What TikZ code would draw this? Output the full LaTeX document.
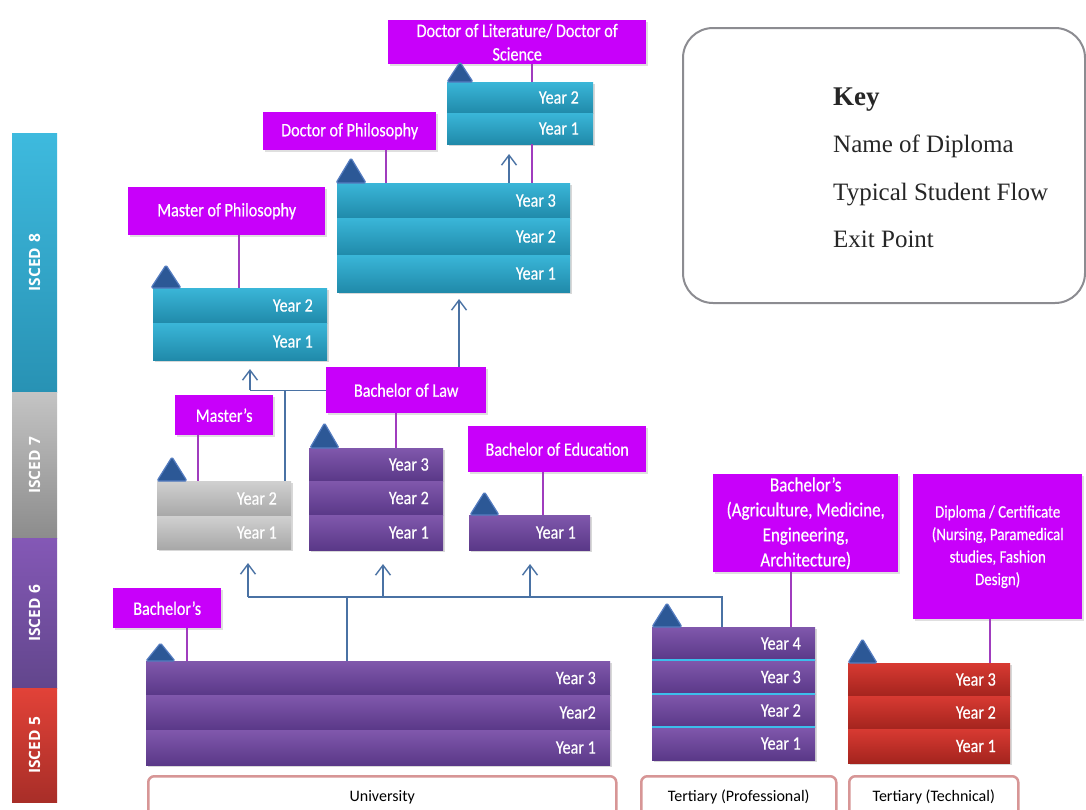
\documentclass[tikz,border=0pt]{standalone}
\usepackage{fontspec}
\setmainfont{Liberation Serif}
\newfontfamily\condf[FakeStretch=0.85,FakeBold=0.5]{Carlito}
\newfontfamily\calf{Carlito}
\newfontfamily\osf{Open Sans}
\usetikzlibrary{arrows.meta,shadows}
\definecolor{mag}{RGB}{200,0,250}
\definecolor{tealL}{RGB}{58,182,216}
\definecolor{tealD}{RGB}{32,138,170}
\definecolor{purL}{RGB}{128,88,172}
\definecolor{purD}{RGB}{90,56,136}
\definecolor{greyL}{RGB}{208,208,208}
\definecolor{greyD}{RGB}{168,168,168}
\definecolor{redL}{RGB}{216,58,50}
\definecolor{redD}{RGB}{164,36,30}
\definecolor{triF}{RGB}{44,88,150}
\definecolor{triE}{RGB}{84,124,192}
\definecolor{connc}{RGB}{160,60,190}
\definecolor{flowc}{RGB}{74,114,164}
\definecolor{labc}{RGB}{215,150,150}
\definecolor{keyc}{RGB}{140,140,145}
\definecolor{sepc}{RGB}{60,190,235}
\tikzset{
  row/.style={anchor=north west, inner sep=0pt, outer sep=0pt,
    drop shadow={shadow xshift=1.5pt, shadow yshift=-2pt, opacity=0.3}},
  tealrow/.style={row, top color=tealL, bottom color=tealD},
  purrow/.style={row, top color=purL, bottom color=purD},
  greyrow/.style={row, top color=greyL, bottom color=greyD},
  redrow/.style={row, top color=redL, bottom color=redD},
  yrtxt/.style={text=white, font=\condf\fontsize{19}{22}\selectfont, inner sep=0pt, anchor=east},
  dip/.style={anchor=north west, fill=mag, text=white, inner sep=2pt, align=center,
    font=\condf\fontsize{19}{23.5}\selectfont,
    drop shadow={shadow xshift=1.5pt, shadow yshift=-2pt, opacity=0.25}},
  conn/.style={draw=connc, line width=1.2pt},
  flowline/.style={draw=flowc, line width=1.4pt},
  flow/.style={flowline, -{Straight Barb[length=10pt,width=15pt]}},
  tri/.style={fill=triF, draw=triE, line width=1.2pt, rounded corners=1.5pt, line join=round},
  lab/.style={anchor=north west, draw=labc, line width=2.5pt, rounded corners=6pt, fill=white,
    font=\calf\fontsize{16}{19}\selectfont, inner sep=0pt},
  isc/.style={anchor=north west, inner sep=0pt, outer sep=0pt, minimum width=45pt},
  isctxt/.style={text=white, font=\osf\bfseries\fontsize{15.5}{17}\selectfont, rotate=90, inner sep=0pt},
  keytxt/.style={anchor=base west, inner sep=0pt, font=\fontsize{25}{28}\selectfont, text=black!85},
}
\newcommand\yrow[7]{%
  \node[#2, minimum width=#5pt, minimum height=#6pt] (#1) at (#3,#4) {};
  \node[yrtxt] at ([xshift=-14pt]#1.east) {#7};}
\newcommand\extri[4]{\draw[tri] (#1,#3) -- (#2,#3) -- ({(#1+#2)/2},#4) -- cycle;}
\begin{document}
\begin{tikzpicture}[x=1pt,y=-1pt]
\path[use as bounding box, fill=white] (0,0) rectangle (1086,809);
\clip (0,0) rectangle (1086,809);

% ISCED bar
\node[isc, top color={rgb,255:red,62;green,186;blue,222}, bottom color={rgb,255:red,40;green,146;blue,180}, minimum height=259pt] (i8) at (12,133) {};
\node[isc, top color={rgb,255:red,196;green,196;blue,196}, bottom color={rgb,255:red,140;green,140;blue,140}, minimum height=146pt] (i7) at (12,392) {};
\node[isc, top color={rgb,255:red,132;green,88;blue,182}, bottom color={rgb,255:red,98;green,70;blue,140}, minimum height=150pt] (i6) at (12,538) {};
\node[isc, top color={rgb,255:red,226;green,66;blue,56}, bottom color={rgb,255:red,168;green,46;blue,40}, minimum height=114pt] (i5) at (12,688) {};
\node[isctxt] at (i8.center) {ISCED\,\,8};
\node[isctxt] at (i7.center) {ISCED\,\,7};
\node[isctxt] at (i6.center) {ISCED\,\,6};
\node[isctxt] at (i5.center) {ISCED\,\,5};

% Key
\node[anchor=north west, draw=keyc, line width=2pt, rounded corners=30pt, minimum width=402pt, minimum height=275pt, inner sep=0pt] (key) at (682,27) {};
\node[keytxt, font=\bfseries\fontsize{27}{30}\selectfont] (k0) at (833,105) {Key};
\node[keytxt] (k1) at (833,152) {Name of Diploma};
\node[keytxt] (k2) at (833,200) {Typical Student Flow};
\node[keytxt] (k3) at (833,247) {Exit Point};

% Diploma labels
\node[dip, minimum width=258pt, minimum height=44pt] (dlit) at (388,20) {Doctor of Literature/ Doctor of\\Science};
\node[dip, minimum width=173pt, minimum height=38pt] (phd) at (263,112) {Doctor of Philosophy};
\node[dip, minimum width=197pt, minimum height=48pt] (mphil) at (128,187) {Master of Philosophy};
\node[dip, minimum width=160pt, minimum height=46pt] (bol) at (326,367) {Bachelor of Law};
\node[dip, minimum width=98pt, minimum height=40pt] (mas) at (175,395) {Master’s};
\node[dip, minimum width=178pt, minimum height=46pt] (bed) at (468,426) {Bachelor of Education};
\node[dip, minimum width=108pt, minimum height=40pt] (bach) at (113,588) {Bachelor’s};
\node[dip, minimum width=185pt, minimum height=98pt, font=\condf\fontsize{20}{25}\selectfont] (prof) at (713,474) {Bachelor’s\\(Agriculture, Medicine,\\Engineering,\\Architecture)};
\node[dip, minimum width=169pt, minimum height=145pt, font=\condf\fontsize{17.5}{22.5}\selectfont] (dipl) at (913,474) {Diploma / Certificate\\(Nursing, Paramedical\\studies, Fashion\\Design)};

% coordinates for connector columns
\coordinate (c1) at (532,0);  \coordinate (c2) at (509,0);
\coordinate (c3) at (386,0);  \coordinate (c4) at (239,0);
\coordinate (c5) at (459,0);  \coordinate (c6) at (396,0);
\coordinate (c7) at (198,0);  \coordinate (c8) at (285,0);
\coordinate (c9) at (250,0);  \coordinate (c10) at (543,0);
\coordinate (c11) at (248,597); \coordinate (c12) at (722,597);
\coordinate (c13) at (347,597); \coordinate (c14) at (383,597);
\coordinate (c15) at (530,597); \coordinate (c16) at (187,0);
\coordinate (c17) at (791,0); \coordinate (c18) at (990,0);

% Year rows
\yrow{d2}{tealrow}{447}{82}{146}{31}{Year 2}
\yrow{d1}{tealrow}{447}{113}{146}{31}{Year 1}
\yrow{p3}{tealrow}{337}{183}{233}{35}{Year 3}
\yrow{p2}{tealrow}{337}{218}{233}{37}{Year 2}
\yrow{p1}{tealrow}{337}{255}{233}{37}{Year 1}
\yrow{m2}{tealrow}{153}{288}{174}{35}{Year 2}
\yrow{m1}{tealrow}{153}{323}{174}{37}{Year 1}
\yrow{g2}{greyrow}{157}{481}{134}{35}{Year 2}
\yrow{g1}{greyrow}{157}{516}{134}{33}{Year 1}
\yrow{b3}{purrow}{309}{448}{134}{33}{Year 3}
\yrow{b2}{purrow}{309}{481}{134}{34}{Year 2}
\yrow{b1}{purrow}{309}{515}{134}{35}{Year 1}
\yrow{e1}{purrow}{469}{515}{121}{35}{Year 1}
\yrow{u3}{purrow}{146}{661}{464}{34}{Year 3}
\yrow{u2}{purrow}{146}{695}{464}{35}{Year2}
\yrow{u1}{purrow}{146}{730}{464}{35}{Year 1}
\yrow{q4}{purrow}{652}{627}{163}{33}{Year 4}
\yrow{q3}{purrow}{652}{660}{163}{34}{Year 3}
\yrow{q2}{purrow}{652}{694}{163}{33}{Year 2}
\yrow{q1}{purrow}{652}{727}{163}{33}{Year 1}
\yrow{r3}{redrow}{848}{663}{162}{33}{Year 3}
\yrow{r2}{redrow}{848}{696}{162}{33}{Year 2}
\yrow{r1}{redrow}{848}{729}{162}{34}{Year 1}
\draw[sepc, line width=2pt] (q4.south west) -- (q4.south east);
\draw[sepc, line width=2pt] (q3.south west) -- (q3.south east);
\draw[sepc, line width=2pt] (q2.south west) -- (q2.south east);

% Exit-point triangles
\extri{447}{473}{82}{62}
\extri{336}{366}{183}{158}
\extri{151}{181}{288}{265}
\extri{157}{187}{481}{457}
\extri{310}{339}{448}{423}
\extri{470}{499}{515}{492}
\extri{146}{175}{661}{643}
\extri{652}{682}{627}{603}
\extri{848}{877}{663}{639}

% diploma connectors
\draw[conn] (dlit.south -| c1) -- (d2.north -| c1);
\draw[conn] (d1.south -| c1) -- (p3.north -| c1);
\draw[conn] (phd.south -| c3) -- (p3.north -| c3);
\draw[conn] (mphil.south -| c4) -- (m2.north -| c4);
\draw[conn] (bol.south -| c6) -- (b3.north -| c6);
\draw[conn] (mas.south -| c7) -- (g2.north -| c7);
\draw[conn] (bed.south -| c10) -- (e1.north -| c10);
\draw[conn] (bach.south -| c16) -- (u3.north -| c16);
\draw[conn] (prof.south -| c17) -- (q4.north -| c17);
\draw[conn] (dipl.south -| c18) -- (r3.north -| c18);

% student flow
\draw[flow, shorten >=10pt] (p3.north -| c2) -- (d1.south -| c2);
\draw[flow, shorten >=7pt] (bol.north -| c5) -- (p1.south -| c5);
\draw[flowline] (bol.west) -- (bol.west -| c9);
\draw[flowline] (bol.west -| c8) -- (g2.north -| c8);
\draw[flow, shorten >=9pt] (bol.west -| c9) -- (m1.south -| c9);
\draw[flowline] (c11) -- (c12) -- (q4.north -| c12);
\draw[flowline] (c13) -- (u3.north -| c13);
\draw[flow, shorten >=14pt] (c11) -- (g1.south -| c11);
\draw[flow, shorten >=14pt] (c14) -- (b1.south -| c14);
\draw[flow, shorten >=14pt] (c15) -- (e1.south -| c15);

% institution labels
\node[lab, minimum width=468pt, minimum height=42pt] (ulab) at (147,775) {University};
\node[lab, minimum width=195pt, minimum height=42pt] (plab) at (640,775) {Tertiary (Professional)};
\node[lab, minimum width=169pt, minimum height=42pt] (tlab) at (848,775) {Tertiary (Technical)};
\end{tikzpicture}
\end{document}
